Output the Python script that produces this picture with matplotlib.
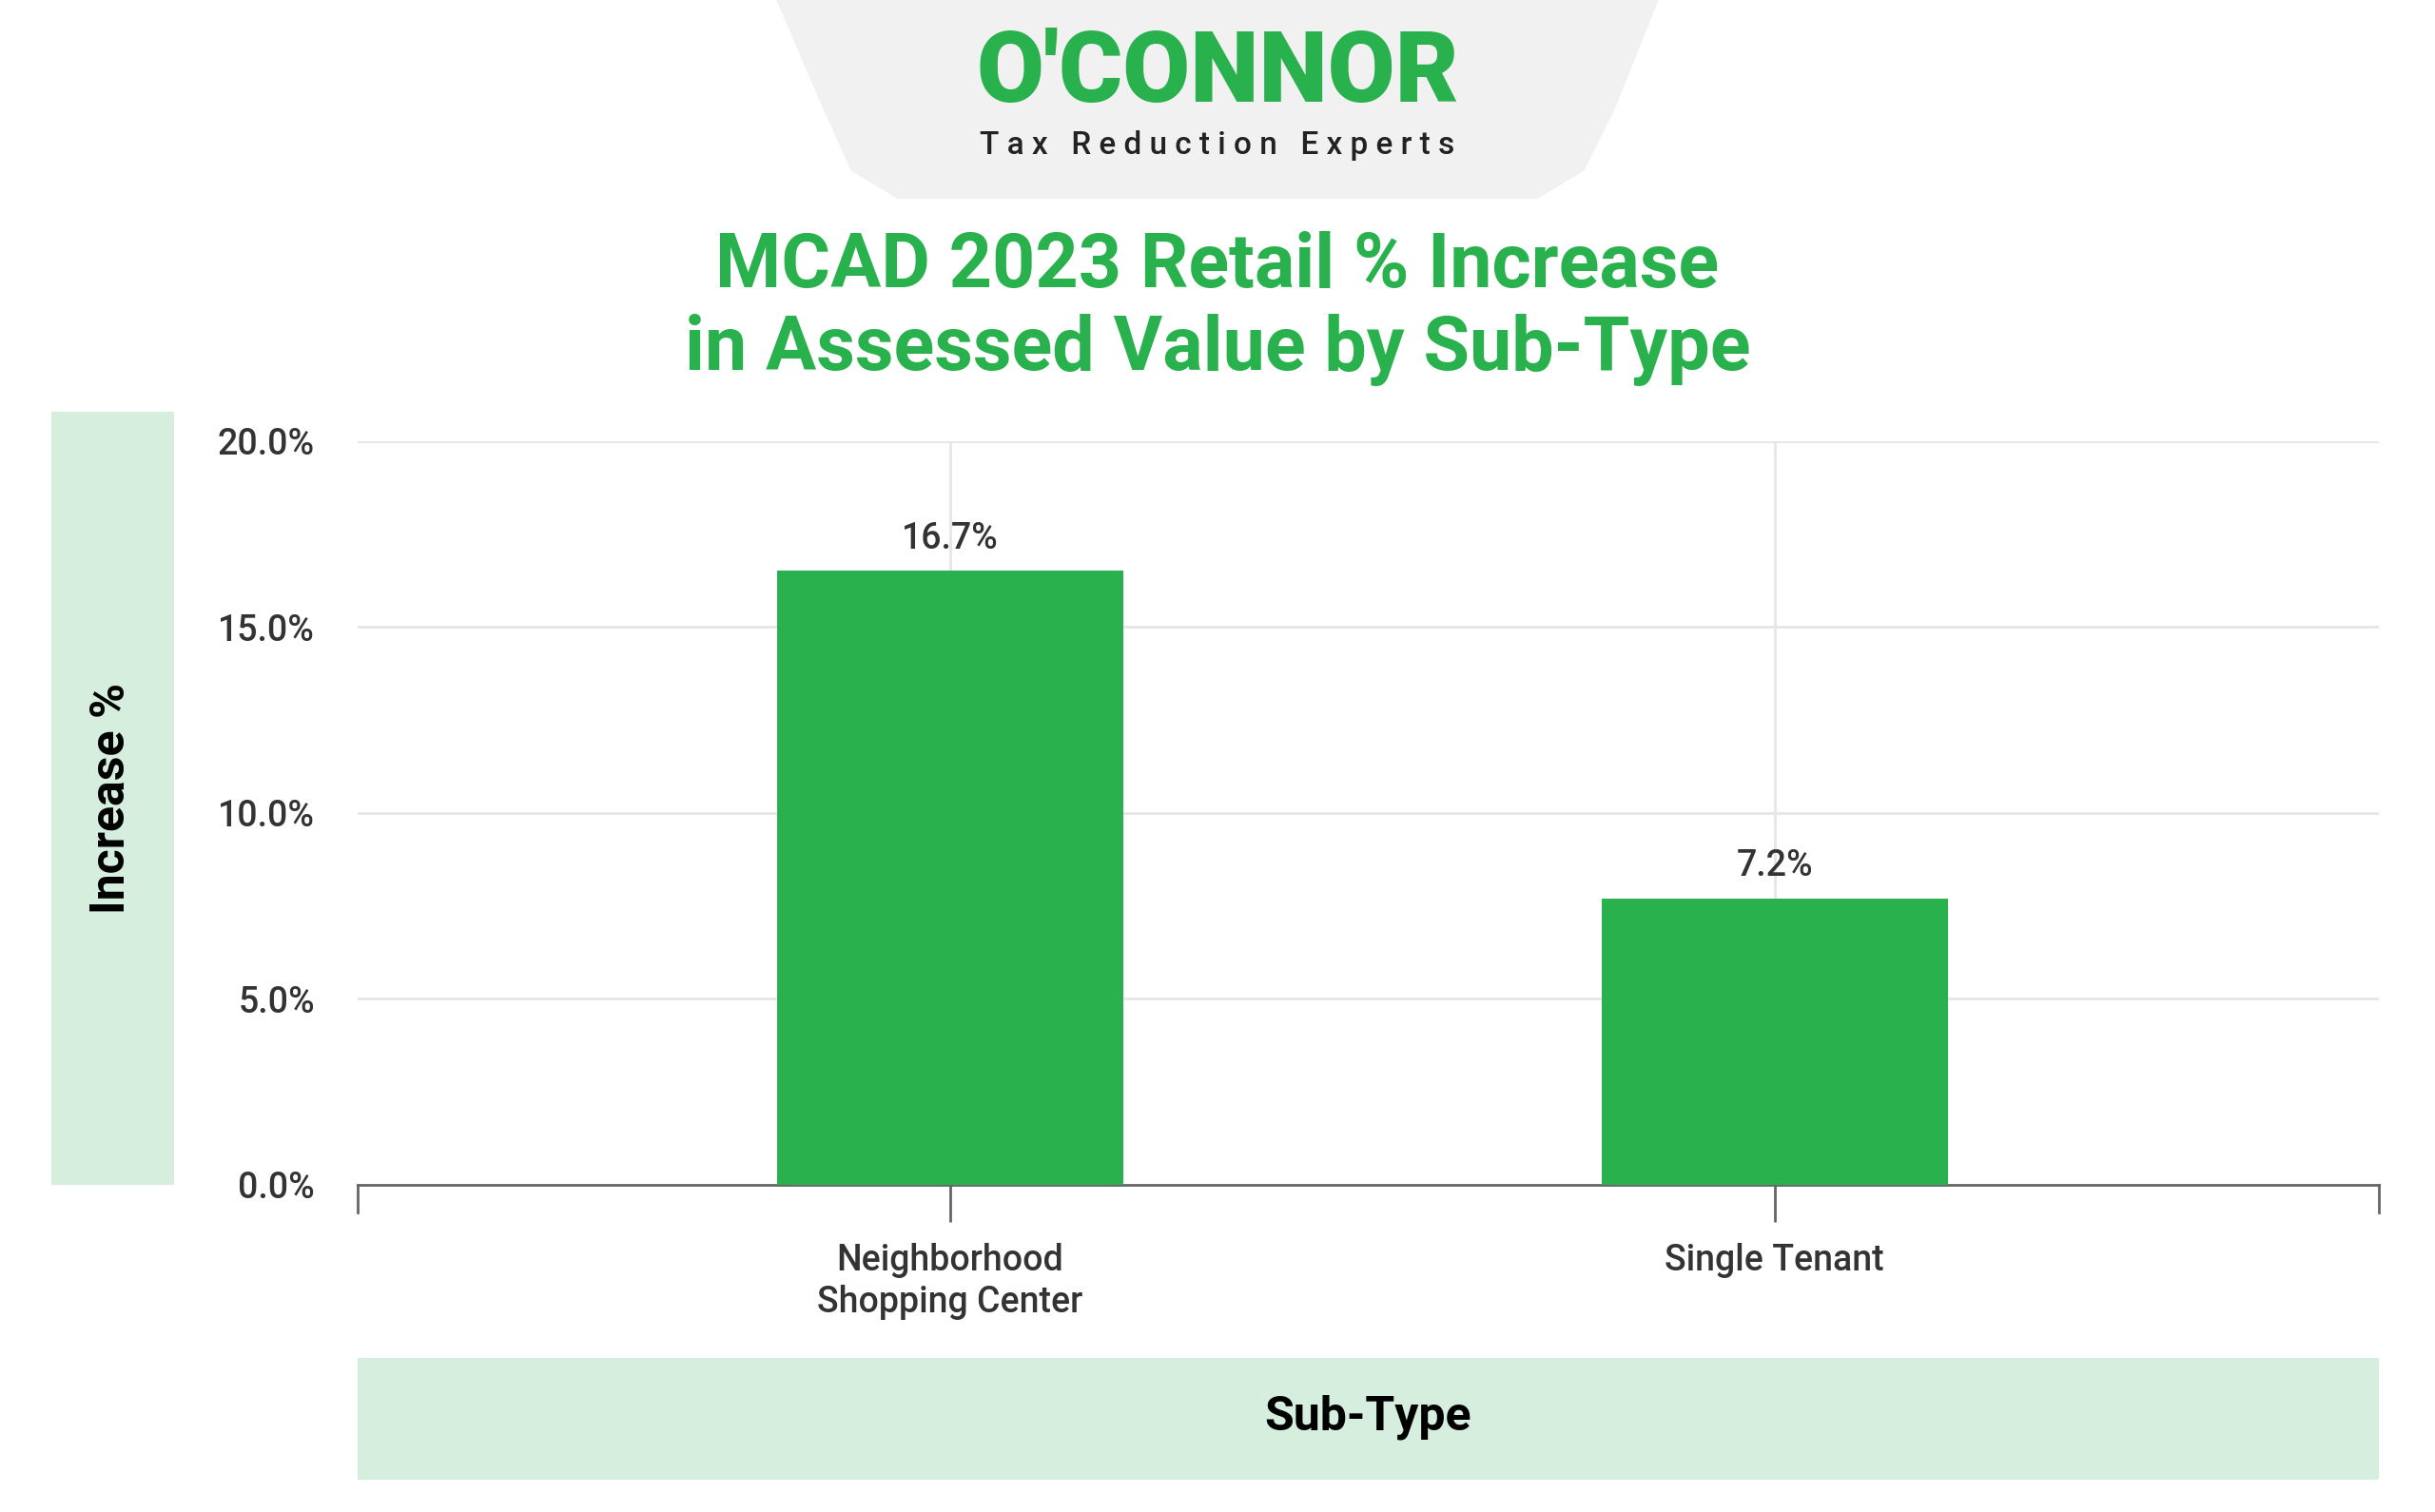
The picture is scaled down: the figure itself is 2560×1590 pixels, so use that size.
import matplotlib
matplotlib.use("Agg")
import matplotlib.pyplot as plt
from matplotlib.patches import Rectangle, Polygon

categories = ["Neighborhood\nShopping Center", "Single Tenant"]
bar_heights = [16.5, 7.7]
bar_labels = ["16.7%", "7.2%"]
yticks = [0, 5, 10, 15, 20]

GREEN = "#28b14c"
LIGHT = "#d5eedd"
W, H = 1568, 974  # reference display coords

fig = plt.figure(figsize=(25.6, 15.9), dpi=100)
def fx(x): return x / W
def fy(y): return 1 - y / H

poly = Polygon([(fx(500), fy(0)), (fx(1068), fy(0)), (fx(1040), fy(70)), (fx(1020), fy(110)), (fx(990), fy(128)),
                (fx(578), fy(128)), (fx(548), fy(110)), (fx(530), fy(70))], closed=True,
               transform=fig.transFigure, facecolor="#f1f1f1", edgecolor="none")
fig.patches.append(poly)
fig.text(fx(784), fy(48), "O'CONNOR", ha="center", va="center", fontsize=74,
         fontweight="heavy", color=GREEN, family="Roboto")
fig.text(fx(784), fy(94), "T a x   R e d u c t i o n   E x p e r t s", ha="center", va="center",
         fontsize=24, color="#222222", family="Roboto", fontweight="medium")
fig.text(fx(784), fy(199), "MCAD 2023 Retail % Increase\nin Assessed Value by Sub-Type",
         ha="center", va="center", fontsize=57, fontweight="bold", color=GREEN,
         family="Roboto", linespacing=1.2)

fig.patches.append(Rectangle((fx(33), fy(763)), fx(112) - fx(33), fy(265) - fy(763),
                             transform=fig.transFigure, facecolor=LIGHT, edgecolor="none"))
fig.patches.append(Rectangle((fx(230), fy(953)), fx(1532) - fx(230), fy(875) - fy(953),
                             transform=fig.transFigure, facecolor=LIGHT, edgecolor="none"))
fig.text(fx(72), fy(514), "Increase %", rotation=90, ha="center", va="center",
         fontsize=36, fontweight="bold", color="black", family="Roboto")
fig.text(fx(881), fy(913), "Sub-Type", ha="center", va="center",
         fontsize=36, fontweight="bold", color="black", family="Roboto")

ax = fig.add_axes([fx(230), fy(763), fx(1532) - fx(230), fy(284) - fy(763)])
x = list(range(len(categories)))
bars = ax.bar(x, bar_heights, width=0.42, color=GREEN, zorder=3)
for xi, h, lab in zip(x, bar_heights, bar_labels):
    ax.text(xi, h + 0.4, lab, ha="center", va="bottom", fontsize=27, color="#333333",
            family="Roboto", fontweight="medium")
ax.set_xlim(-0.719, 1.733)
ax.set_ylim(0, 20)
ax.set_yticks(yticks)
ax.set_yticklabels([f"{v:.1f}%" for v in yticks], fontsize=27, color="#333333",
                   family="Roboto", fontweight="medium")
ax.set_xticks(x)
ax.set_xticklabels(categories, fontsize=27, color="#333333", family="Roboto",
                   fontweight="medium", linespacing=1.25)
ax.grid(True, color="#e6e6e6", linewidth=2, zorder=0)
for s in ["top", "right", "left"]:
    ax.spines[s].set_visible(False)
ax.spines["bottom"].set_color("#666666")
ax.spines["bottom"].set_linewidth(2)
ax.tick_params(axis="y", length=0, pad=32)
ax.tick_params(axis="x", length=28, width=2, color="#666666", pad=16)
for xe in ax.get_xlim():
    ax.plot([xe, xe], [0, -0.75], color="#666666", lw=2, clip_on=False, zorder=4)

fig.savefig("out.png", dpi=100, facecolor="white")
